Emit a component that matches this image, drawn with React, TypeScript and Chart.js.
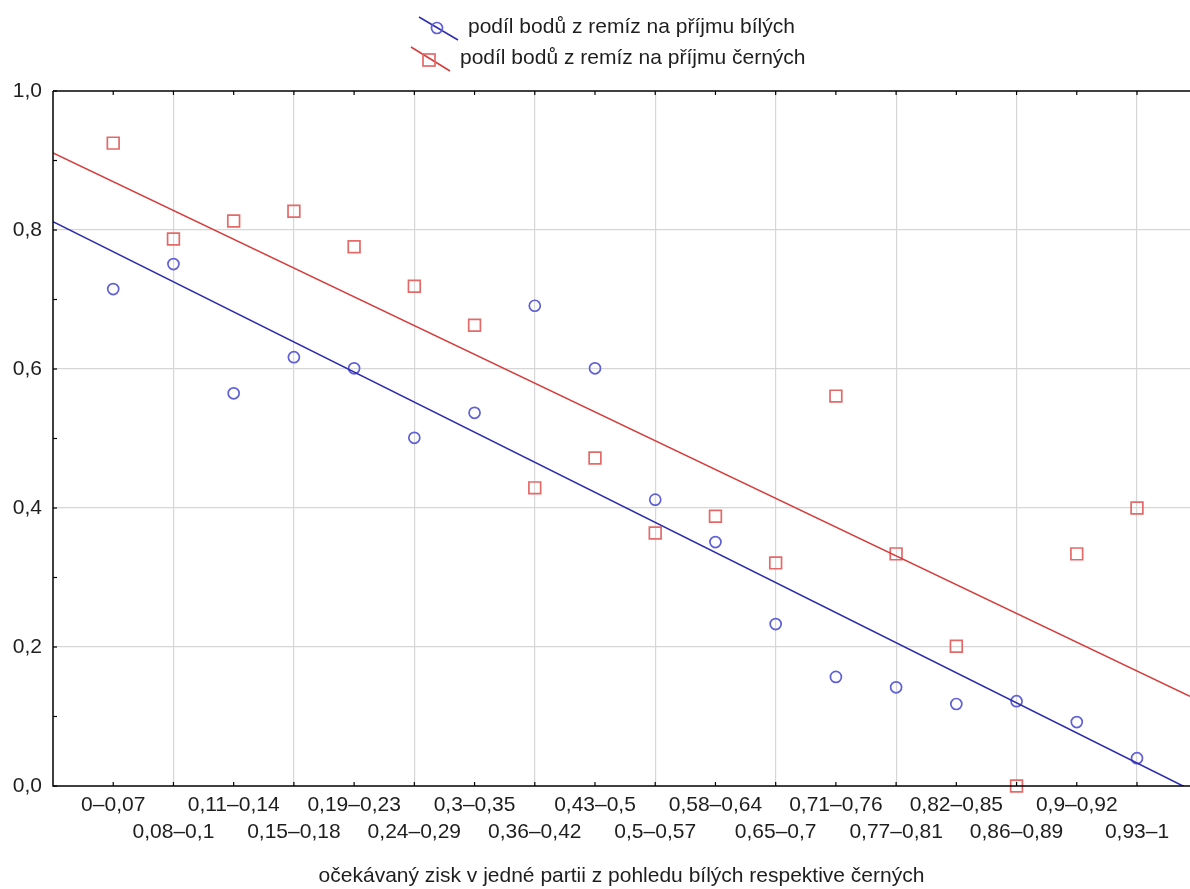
import React, { useEffect, useRef } from "react";
import { Chart, registerables } from "chart.js";

Chart.register(...registerables);

// ---------- data ----------
const categories = [
  "0–0,07", "0,08–0,1", "0,11–0,14", "0,15–0,18", "0,19–0,23", "0,24–0,29",
  "0,3–0,35", "0,36–0,42", "0,43–0,5", "0,5–0,57", "0,58–0,64", "0,65–0,7",
  "0,71–0,76", "0,77–0,81", "0,82–0,85", "0,86–0,89", "0,9–0,92", "0,93–1",
];
const whiteShare = [
  0.715, 0.751, 0.565, 0.617, 0.601, 0.501, 0.537, 0.691, 0.601,
  0.412, 0.351, 0.233, 0.157, 0.142, 0.118, 0.122, 0.092, 0.040,
];
const blackShare = [
  0.925, 0.787, 0.813, 0.827, 0.776, 0.719, 0.663, 0.429, 0.472,
  0.364, 0.388, 0.321, 0.561, 0.334, 0.201, 0.0, 0.334, 0.400,
];
const X_MIN = 0;
const X_MAX = 18.88;
const trendX = [X_MIN, X_MAX];
const whiteTrend = [0.812, -0.005];
const blackTrend = [0.911, 0.129];
const yTicks = [0, 0.2, 0.4, 0.6, 0.8, 1.0];
const legendLabels = [
  "podíl bodů z remíz na příjmu bílých",
  "podíl bodů z remíz na příjmu černých",
];
const xTitle = "očekávaný zisk v jedné partii z pohledu bílých respektive černých";

// ---------- styles ----------
const FONT = "'Liberation Sans', Arial, sans-serif";
const TEXT = "#1e1e1e";
const BLUE_PT = "rgb(95,95,215)";
const BLUE_LN = "rgb(45,45,175)";
const RED_PT = "rgb(228,105,105)";
const RED_LN = "rgb(214,60,60)";
const GRID = "#d6d6d6";

const framePlugin = {
  id: "frame",
  afterDatasetsDraw(chart: any) {
    const { ctx, chartArea } = chart;
    const xs = chart.scales.x;
    const ys = chart.scales.y;
    ctx.save();
    ctx.strokeStyle = "#000";
    ctx.lineWidth = 1.5;
    ctx.beginPath();
    ctx.moveTo(chartArea.left, chartArea.top);
    ctx.lineTo(chartArea.right, chartArea.top);
    ctx.stroke();
    ctx.beginPath();
    ctx.moveTo(chartArea.left, chartArea.top);
    ctx.lineTo(chartArea.left, chartArea.bottom);
    ctx.lineTo(chartArea.right, chartArea.bottom);
    ctx.stroke();
    ctx.lineWidth = 1.2;
    categories.forEach((_, i) => {
      const px = xs.getPixelForValue(i + 1);
      ctx.beginPath();
      ctx.moveTo(px, chartArea.bottom);
      ctx.lineTo(px, chartArea.bottom - 4);
      ctx.moveTo(px, chartArea.top);
      ctx.lineTo(px, chartArea.top + 4);
      ctx.stroke();
    });
    for (let k = 0; k <= 10; k++) {
      const py = ys.getPixelForValue(k / 10);
      ctx.beginPath();
      ctx.moveTo(chartArea.left, py);
      ctx.lineTo(chartArea.left + 4, py);
      ctx.stroke();
    }
    ctx.restore();
  },
};

const legendPlugin = {
  id: "customLegend",
  afterDraw(chart: any) {
    const { ctx } = chart;
    ctx.save();
    ctx.font = `21px ${FONT}`;
    ctx.fillStyle = TEXT;
    ctx.textBaseline = "middle";
    ctx.textAlign = "left";
    // row 1 (blue circle)
    ctx.strokeStyle = BLUE_LN;
    ctx.lineWidth = 1.5;
    ctx.beginPath();
    ctx.moveTo(419, 17);
    ctx.lineTo(458, 40);
    ctx.stroke();
    ctx.strokeStyle = BLUE_PT;
    ctx.lineWidth = 1.7;
    ctx.beginPath();
    ctx.arc(437, 28, 5.5, 0, Math.PI * 2);
    ctx.stroke();
    ctx.fillText(legendLabels[0], 468, 27);
    // row 2 (red square)
    ctx.strokeStyle = RED_LN;
    ctx.lineWidth = 1.5;
    ctx.beginPath();
    ctx.moveTo(411, 47);
    ctx.lineTo(450, 71);
    ctx.stroke();
    ctx.strokeStyle = RED_PT;
    ctx.lineWidth = 1.7;
    ctx.strokeRect(429 - 6, 60 - 6, 12, 12);
    ctx.fillStyle = TEXT;
    ctx.fillText(legendLabels[1], 460, 58);
    ctx.restore();
  },
};

export default function App() {
  const ref = useRef<HTMLCanvasElement>(null);
  useEffect(() => {
    if (!ref.current) return;
    const chart = new Chart(ref.current, {
      type: "scatter",
      data: {
        datasets: [
          {
            type: "line",
            label: "trend bílí",
            data: trendX.map((x, i) => ({ x, y: whiteTrend[i] })),
            borderColor: BLUE_LN,
            borderWidth: 1.6,
            pointRadius: 0,
            fill: false,
          },
          {
            type: "line",
            label: "trend černí",
            data: trendX.map((x, i) => ({ x, y: blackTrend[i] })),
            borderColor: RED_LN,
            borderWidth: 1.6,
            pointRadius: 0,
            fill: false,
          },
          {
            label: legendLabels[0],
            data: whiteShare.map((y, i) => ({ x: i + 1, y })),
            pointStyle: "circle",
            pointRadius: 5.5,
            borderWidth: 1.7,
            borderColor: BLUE_PT,
            backgroundColor: "rgba(0,0,0,0)",
          },
          {
            label: legendLabels[1],
            data: blackShare.map((y, i) => ({ x: i + 1, y })),
            pointStyle: "rect",
            pointRadius: 8.3,
            borderWidth: 1.7,
            borderColor: RED_PT,
            backgroundColor: "rgba(0,0,0,0)",
            clip: 10,
          },
        ],
      },
      options: {
        animation: false,
        responsive: false,
        layout: { autoPadding: false, padding: { top: 91, left: 0, right: 0, bottom: 0 } },
        plugins: {
          legend: { display: false },
          tooltip: { enabled: false },
        },
        scales: {
          x: {
            type: "linear",
            min: X_MIN,
            max: X_MAX,
            afterBuildTicks: (scale: any) => {
              scale.ticks = categories.map((_, i) => ({ value: i + 1 }));
            },
            afterFit: (scale: any) => {
              scale.height = 103;
              scale.paddingLeft = 0;
              scale.paddingRight = 0;
            },
            ticks: {
              autoSkip: false,
              maxRotation: 0,
              minRotation: 0,
              padding: 6,
              color: TEXT,
              font: { family: FONT, size: 21, lineHeight: 1.29 },
              callback: (_v: any, index: number) =>
                index % 2 === 0 ? [categories[index], ""] : ["", categories[index]],
            },
            grid: {
              drawTicks: false,
              color: (ctx: any) =>
                ctx.tick && ctx.tick.value % 2 === 0 ? GRID : "rgba(0,0,0,0)",
              lineWidth: 1.2,
            },
            border: { display: false },
            title: {
              display: true,
              text: xTitle,
              color: TEXT,
              font: { family: FONT, size: 21 },
              padding: { top: 0, bottom: 0 },
            },
          },
          y: {
            type: "linear",
            min: 0,
            max: 1,
            afterBuildTicks: (scale: any) => {
              scale.ticks = yTicks.map((v) => ({ value: v }));
            },
            afterFit: (scale: any) => {
              scale.width = 53;
            },
            ticks: {
              padding: 11,
              color: TEXT,
              font: { family: FONT, size: 21 },
              callback: (v: any) => Number(v).toFixed(1).replace(".", ","),
            },
            grid: {
              drawTicks: false,
              color: (ctx: any) =>
                ctx.tick && ctx.tick.value > 0.01 && ctx.tick.value < 0.99
                  ? GRID
                  : "rgba(0,0,0,0)",
              lineWidth: 1.2,
            },
            border: { display: false },
          },
        },
      },
      plugins: [framePlugin, legendPlugin],
    } as any);
    return () => chart.destroy();
  }, []);

  return (
    <div style={{ position: "fixed", left: 0, top: 0, width: 1190, height: 889, background: "#fff" }}>
      <canvas ref={ref} width={1190} height={889} />
    </div>
  );
}
